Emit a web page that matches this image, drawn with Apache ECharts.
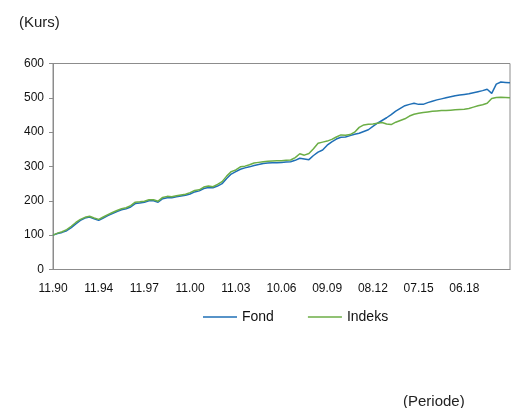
<!DOCTYPE html>
<html>
<head>
<meta charset="utf-8">
<script src="https://cdn.jsdelivr.net/npm/echarts@6/dist/echarts.min.js"></script>
<style>
  html, body { margin: 0; padding: 0; background: #fff; }
  #chart { width: 513px; height: 408px; }
</style>
</head>
<body>
<div id="chart"></div>
<script>
// tick labels (one every 10 points)
const tickLabels = ['11.90', '11.94', '11.97', '11.00', '11.03', '10.06', '09.09', '08.12', '07.15', '06.18'];

const fond = [
  100, 105, 108, 113, 122, 133, 143, 150, 153, 148,
  143, 150, 157, 163, 169, 174, 177, 182, 192, 194,
  196, 200, 200, 196, 206, 209, 209, 212, 214, 216,
  220, 226, 229, 236, 239, 238, 243, 250, 265, 278,
  285, 292, 296, 299, 303, 306, 309, 310, 311, 311,
  312, 313, 314, 318, 324, 322, 320, 332, 342, 348,
  362, 372, 380, 385, 386, 390, 394, 397, 402, 407,
  417, 426, 434, 442, 451, 461, 469, 477, 481, 484,
  481, 481, 486, 490, 494, 497, 500, 503, 506, 508,
  510, 512, 515, 518, 521, 525, 513, 540, 546, 545,
  544
];

const indeks = [
  100, 106, 110, 116, 126, 137, 146, 152, 155, 150,
  146, 153, 160, 166, 172, 177, 180, 186, 196, 197,
  199, 203, 203, 199, 210, 213, 212, 215, 217, 219,
  224, 230, 232, 240, 243, 241, 248, 256, 272, 285,
  290, 299, 301, 305, 310, 312, 314, 315, 316, 317,
  317, 318, 319, 326, 337, 333, 338, 352, 368, 371,
  374, 379, 386, 392, 391, 393, 400, 414, 421, 423,
  424, 426, 428, 424, 422, 429, 434, 439, 447, 452,
  455, 457, 459, 461, 462, 463, 463, 464, 465, 466,
  467, 469, 473, 477, 480, 484, 498, 501, 502, 501,
  500
];

const categories = fond.map((v, i) => (i % 10 === 0 ? (tickLabels[i / 10] || '') : String(i)));

const font = 'Liberation Sans, Arial, sans-serif';
const chart = echarts.init(document.getElementById('chart'));

chart.setOption({
  animation: false,
  backgroundColor: '#fff',
  graphic: [
    { type: 'text', left: 19, top: 15, style: { text: '(Kurs)', font: '15px Liberation Sans', fill: '#222' } },
    { type: 'text', left: 403, top: 394, style: { text: '(Periode)', font: '15px Liberation Sans', fill: '#222' } }
  ],
  grid: {
    left: 53, right: 1, top: 63.5, bottom: 138.5,
    show: true, borderColor: '#8c8c8c', borderWidth: 1
  },
  legend: {
    left: 198, top: 305,
    icon: 'rect', itemWidth: 34, itemHeight: 1.5, itemGap: 34,
    textStyle: { fontFamily: font, fontSize: 14, color: '#111' },
    data: ['Fond', 'Indeks']
  },
  xAxis: {
    type: 'category',
    data: categories,
    boundaryGap: false,
    axisLine: { lineStyle: { color: '#8c8c8c' } },
    axisTick: { show: false },
    axisLabel: { interval: 9, margin: 13, fontFamily: font, fontSize: 12, color: '#111' },
    splitLine: { show: false }
  },
  yAxis: {
    type: 'value',
    min: 0, max: 600, interval: 100,
    axisLine: { show: true, lineStyle: { color: '#8c8c8c' } },
    axisTick: { show: true, length: 4, lineStyle: { color: '#8c8c8c' } },
    axisLabel: { margin: 9, fontFamily: font, fontSize: 12, color: '#111' },
    splitLine: { show: false }
  },
  series: [
    { name: 'Fond', type: 'line', data: fond, symbol: 'none', color: '#1f6fb6', lineStyle: { width: 1.5 } },
    { name: 'Indeks', type: 'line', data: indeks, symbol: 'none', color: '#6cae46', lineStyle: { width: 1.5 } }
  ]
});
</script>
</body>
</html>
